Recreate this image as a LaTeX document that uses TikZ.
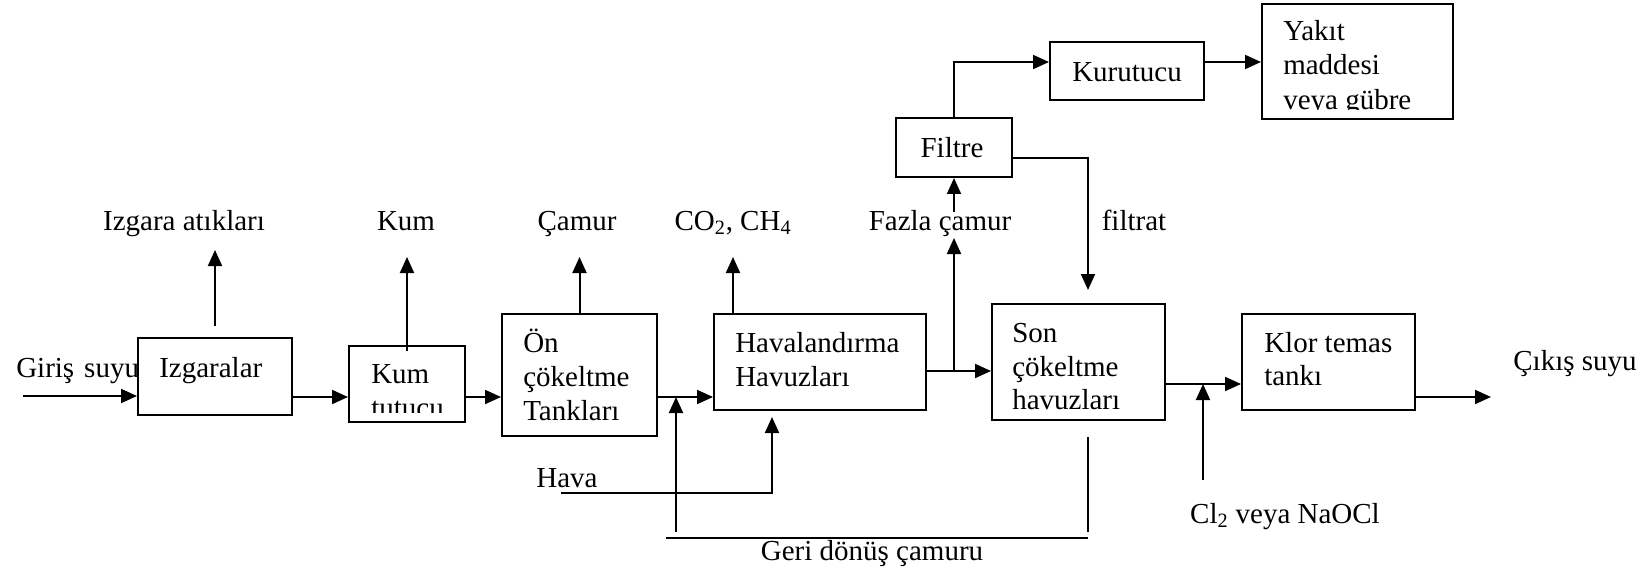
\documentclass[tikz,border=0pt]{standalone}
\usepackage{fontspec}
\setmainfont{Liberation Serif}
\usetikzlibrary{arrows.meta,calc}
\newcommand{\fsz}{\fontsize{21.75}{26}\selectfont}
\begin{document}
\begin{tikzpicture}[x=0.75pt,y=-0.75pt,
  box/.style 2 args={draw, fill=white, line width=1.5pt, minimum width=#1*0.75pt, minimum height=#2*0.75pt, inner sep=0pt},
  txt/.style={font=\fsz, inner sep=0pt},
  ln/.style={line width=1.5pt},
  arr/.style={ln, -{Triangle[length=12pt,width=10.5pt]}},
  thin line/.style={line width=1pt}
]
\useasboundingbox (0,0) rectangle (1645,574);

% outside labels
\node[txt, anchor=base west] (gir) at (16,377) {Giriş\hskip 7.5pt suyu};
\node[txt, anchor=base] (izgL) at (184,230) {Izgara atıkları};
\node[txt, anchor=base] (kumL) at (406,230) {Kum};
\node[txt, anchor=base] (onL) at (577,230) {Çamur};
\node[txt, anchor=base] (havL) at (733,230) {CO\textsubscript{2}, CH\textsubscript{4}};
\node[txt, anchor=base] (fazL) at (940,230) {Fazla çamur};
\node[txt, anchor=base] (filL) at (1134,230) {filtrat};
\node[txt, anchor=base] (havaL) at (567,487) {Hava};
\node[txt, anchor=base] (geriL) at (872,560) {Geri dönüş çamuru};
\node[txt, anchor=base] (clL) at (1285,523) {Cl\textsubscript{2} veya NaOCl};
\node[txt, anchor=base] (cikL) at (1575,370) {Çıkış suyu};

% boxes
\node[box={154}{77}] (izg) at (215,376.5) {};
\node[box={116}{76}] (kum) at (407,384) {};
\node[box={155}{122}] (on) at (579.5,375) {};
\node[box={212}{96}] (hav) at (820,362) {};
\node[box={173}{116}] (son) at (1078.5,362) {};
\node[box={173}{96}] (klor) at (1328.5,362) {};
\node[box={116}{59}] (filtre) at (954,147.5) {};
\node[box={154}{58}] (kurut) at (1127,71) {};
\node[box={191}{115}] (yakit) at (1357.5,61.5) {};

% box texts
\node[txt, anchor=base west] (izgT) at (159,377) {Izgaralar};
\begin{scope}
  \clip (350,347) rectangle (464,412);
  \node[txt, anchor=base west] (kumT1) at (371,383) {Kum};
  \node[txt, anchor=base west] (kumT2) at (371,417) {tutucu};
\end{scope}
\node[txt, anchor=base west] (onT1) at (523,352) {Ön};
\node[txt, anchor=base west] (onT2) at (523,386) {çökeltme};
\node[txt, anchor=base west] (onT3) at (523,420) {Tankları};
\node[txt, anchor=base west] (havT1) at (735,352) {Havalandırma};
\node[txt, anchor=base west] (havT2) at (735,386) {Havuzları};
\node[txt, anchor=base west] (sonT1) at (1012,342) {Son};
\node[txt, anchor=base west] (sonT2) at (1012,376) {çökeltme};
\node[txt, anchor=base west] (sonT3) at (1012,409) {havuzları};
\node[txt, anchor=base west] (klorT1) at (1264,352) {Klor temas};
\node[txt, anchor=base west] (klorT2) at (1264,385) {tankı};
\node[txt, anchor=base] (filT) at (952,158) {Filtre};
\node[txt, anchor=base] (kurT) at (1127,82) {Kurutucu};
\begin{scope}
  \clip (1263,5) rectangle (1452,110);
  \node[txt, anchor=base west] (yakT1) at (1283,41) {Yakıt};
  \node[txt, anchor=base west] (yakT2) at (1283,75) {maddesi};
  \node[txt, anchor=base west] (yakT3) at (1283,110) {veya gübre};
\end{scope}

% helper coordinates
\coordinate (inS) at (23,396);
\coordinate (mainY) at (0,397);
\coordinate (upY) at (0,257);
\coordinate (izgTip) at (215,250);
\coordinate (sY) at (0,371);
\coordinate (kY) at (0,62);
\coordinate (frY) at (0,158);
\coordinate (frTip) at (1088,290);
\coordinate (clY) at (0,384);
\coordinate (clS) at (1203,480);
\coordinate (outE) at (1491,397);
\coordinate (haS) at (561,493);
\coordinate (haTip) at (772,417);
\coordinate (rcS) at (676,532);
\coordinate (gA) at (666,538);
\coordinate (gB) at (1088,538);
\coordinate (gC) at (1088,437);
\coordinate (gD) at (1088,532);
\coordinate (fTip) at (954,238);
\coordinate (fS) at (954,212);
\coordinate (havUp) at ($(hav.north west)+(20,0)$);

% main line
\draw[arr] (inS) -- (inS -| izg.west);
\draw[arr] (izg.east |- mainY) -- (kum.west |- mainY);
\draw[arr] (kum.east |- mainY) -- (on.west |- mainY);
\draw[arr] (on.east |- mainY) -- (hav.west |- mainY);
\draw[arr] (hav.east |- sY) -- (son.west |- sY);
\draw[arr] (son.east |- clY) -- (klor.west |- clY);
\draw[arr] (klor.east |- outE) -- (outE);

% upward outputs
\draw[arr] ($(izg.north)+(0,-11)$) -- (izgTip);
\draw[arr] ($(kum.north)+(0,6)$) -- (kum.north |- upY);
\draw[arr] (on.north) -- (on.north |- upY);
\draw[arr] (havUp) -- (havUp |- upY);

% sludge line
\draw[arr] (filtre.south |- sY) -- (fTip);
\draw[arr] (fS) -- (filtre.south);
\draw[arr] (filtre.north) |- (kurut.west |- kY);
\draw[arr] (kurut.east |- kY) -- (yakit.west |- kY);
\draw[arr] (filtre.east |- frY) -| (frTip);

% chlorine
\draw[arr] (clS) -- (clS |- clY);

% air
\draw[arr] (haS) -| (haTip);

% return sludge
\draw[arr] (rcS) -- (rcS |- mainY);
\draw[ln] (gA) -- (gB);
\draw[thin line] (gC) -- (gD);
\end{tikzpicture}
\end{document}
